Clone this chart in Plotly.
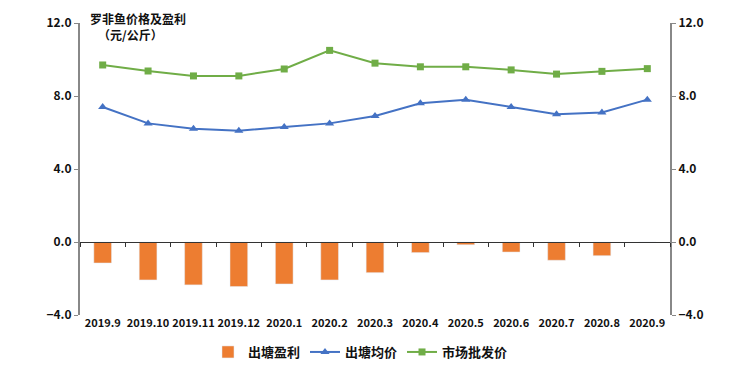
import plotly.graph_objects as go

months = ["2019.9", "2019.10", "2019.11", "2019.12", "2020.1", "2020.2", "2020.3",
          "2020.4", "2020.5", "2020.6", "2020.7", "2020.8", "2020.9"]
profit = [-1.15, -2.08, -2.35, -2.44, -2.3, -2.08, -1.68, -0.58, -0.15, -0.55, -1.0, -0.75, -0.02]
pond_price = [7.4, 6.5, 6.2, 6.1, 6.3, 6.5, 6.9, 7.6, 7.8, 7.4, 7.0, 7.1, 7.8]
wholesale = [9.7, 9.37, 9.1, 9.1, 9.48, 10.5, 9.8, 9.6, 9.6, 9.43, 9.2, 9.35, 9.5]
yticks = [-4, 0, 4, 8, 12]

FONT = "Noto Sans CJK SC, Liberation Sans, sans-serif"
ORANGE = "#ED7D31"
BLUE = "#4472C4"
GREEN = "#70AD47"

fig = go.Figure()
fig.add_trace(go.Bar(x=months, y=profit, name="出塘盈利", marker_color=ORANGE,
                     width=0.39, yaxis="y"))
fig.add_trace(go.Scatter(x=months, y=pond_price, name="出塘均价", mode="lines+markers",
                         line=dict(color=BLUE, width=2),
                         marker=dict(symbol="triangle-up", size=8, color=BLUE),
                         yaxis="y"))
fig.add_trace(go.Scatter(x=months, y=wholesale, name="市场批发价", mode="lines+markers",
                         line=dict(color=GREEN, width=2),
                         marker=dict(symbol="square", size=7, color=GREEN),
                         yaxis="y"))
# invisible traces to activate secondary axes
fig.add_trace(go.Scatter(x=months, y=pond_price, yaxis="y2", mode="lines",
                         line=dict(width=0), showlegend=False, hoverinfo="skip"))
fig.add_trace(go.Scatter(x=months, y=pond_price, xaxis="x2", mode="lines",
                         line=dict(width=0), showlegend=False, hoverinfo="skip"))

# end labels
fig.add_annotation(x=months[-1], y=wholesale[-1], text=f"{wholesale[-1]:.1f}",
                   showarrow=False, yshift=15,
                   font=dict(size=12, color="#111", family=FONT, weight="bold"),
                   xref="x", yref="y")
fig.add_annotation(x=months[-1], y=pond_price[-1], text=f"{pond_price[-1]:.1f}",
                   showarrow=False, yshift=-13, xshift=7,
                   font=dict(size=12, color="#111", family=FONT, weight="bold"),
                   xref="x", yref="y")
fig.add_annotation(x=8 / 590, y=1 + 5 / 292, xref="paper", yref="paper", xanchor="left",
                   yanchor="middle", text="罗非鱼价格及盈利", showarrow=False,
                   font=dict(size=12, color="#111", family=FONT, weight="bold"))
fig.add_annotation(x=16 / 590, y=1 - 12 / 292, xref="paper", yref="paper", xanchor="left",
                   yanchor="middle", text="（元/公斤）", showarrow=False,
                   font=dict(size=12, color="#111", family=FONT, weight="bold"))

yrange = [-4, 12]
fig.update_layout(
    width=751, height=366,
    margin=dict(l=80, r=81, t=23, b=51, autoexpand=False),
    paper_bgcolor="white", plot_bgcolor="white",
    font=dict(family=FONT, size=11, color="#111"),
    xaxis=dict(type="category", showline=False, showgrid=False, ticks="",
               tickfont=dict(size=11, family=FONT, weight="bold"), range=[-0.5, 12.5]),
    xaxis2=dict(type="category", overlaying="x", anchor="free", position=0.25,
                matches="x", showline=True, linecolor="#333", linewidth=1,
                ticks="outside", tickson="boundaries", ticklen=4, tickcolor="#333",
                showticklabels=False, showgrid=False, side="bottom"),
    yaxis=dict(range=yrange, tickvals=yticks, tickformat=".1f", showgrid=False,
               zeroline=False, showline=True, linecolor="#888", linewidth=2,
               ticks="outside", ticklen=4, tickcolor="#888",
               tickfont=dict(size=12, family=FONT, weight="bold")),
    yaxis2=dict(range=yrange, tickvals=yticks, tickformat=".1f", overlaying="y", side="right",
                showgrid=False, zeroline=False, showline=True, linecolor="#888", linewidth=2,
                ticks="outside", ticklen=4, tickcolor="#888",
                tickfont=dict(size=12, family=FONT, weight="bold")),
    legend=dict(orientation="h", x=0.48, xanchor="center", xref="container",
                y=14 / 366, yanchor="middle", yref="container",
                font=dict(size=13, family=FONT, weight="bold"), traceorder="normal"),
    showlegend=True,
)

fig.write_html("out.html", config={"displayModeBar": False},
               post_script="document.body.style.margin='0';")
